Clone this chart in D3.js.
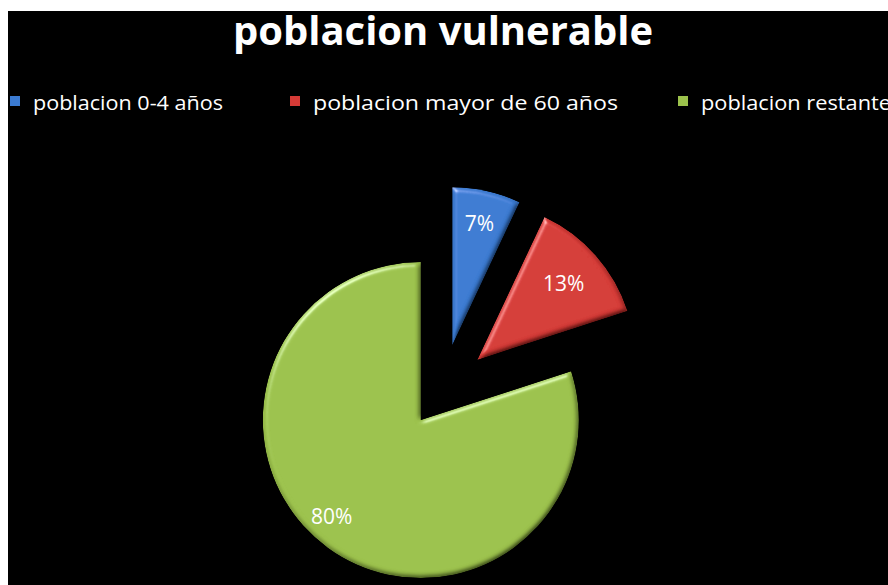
<!DOCTYPE html>
<html>
<head>
<meta charset="utf-8">
<script src="https://cdn.jsdelivr.net/npm/d3@7"></script>
<style>
  html, body { margin: 0; padding: 0; background: #fff; }
  svg { display: block; }
</style>
</head>
<body>
<div id="chart"></div>
<script>
// datos del grafico
const categories = ['poblacion 0-4 años', 'poblacion mayor de 60 años', 'poblacion restante'];
const values = [7, 13, 80];
const labels = ['7%', '13%', '80%'];
const titleText = 'poblacion vulnerable';

const W = 888, H = 585;
const colors = ['#3b7bd2', '#d53a36', '#9cc24c'];
const explode = [47, 47, 36];   // separacion de cada porcion
const cx = 442, cy = 391, radius = 158;

const svg = d3.select('#chart').append('svg')
    .attr('width', W)
    .attr('height', H);

// fondo negro con borde blanco arriba/izquierda
svg.append('rect')
    .attr('x', 8).attr('y', 11)
    .attr('width', W - 8).attr('height', H - 11)
    .attr('fill', '#000');

const defs = svg.append('defs');
const bevel = defs.append('filter')
    .attr('id', 'bevel')
    .attr('x', '-10%').attr('y', '-10%')
    .attr('width', '120%').attr('height', '120%');
bevel.append('feGaussianBlur')
    .attr('in', 'SourceAlpha').attr('stdDeviation', 2.5).attr('result', 'blur');
const spec = bevel.append('feSpecularLighting')
    .attr('in', 'blur').attr('surfaceScale', 4)
    .attr('specularConstant', 0.7).attr('specularExponent', 25)
    .attr('lighting-color', '#ffffff').attr('result', 'spec');
spec.append('feDistantLight').attr('azimuth', 235).attr('elevation', 25);
bevel.append('feComposite')
    .attr('in', 'spec').attr('in2', 'SourceAlpha')
    .attr('operator', 'in').attr('result', 'specOut');
const diff = bevel.append('feDiffuseLighting')
    .attr('in', 'blur').attr('surfaceScale', 4)
    .attr('diffuseConstant', 1).attr('lighting-color', '#ffffff').attr('result', 'diff');
diff.append('feDistantLight').attr('azimuth', 235).attr('elevation', 60);
bevel.append('feComposite')
    .attr('in', 'SourceGraphic').attr('in2', 'diff')
    .attr('operator', 'arithmetic')
    .attr('k1', 1.15).attr('k2', 0).attr('k3', 0).attr('k4', 0).attr('result', 'shaded');
bevel.append('feComposite')
    .attr('in', 'shaded').attr('in2', 'specOut')
    .attr('operator', 'arithmetic')
    .attr('k1', 0).attr('k2', 1).attr('k3', 0.6).attr('k4', 0).attr('result', 'lit');
bevel.append('feComposite')
    .attr('in', 'lit').attr('in2', 'SourceAlpha')
    .attr('operator', 'in');

// titulo
svg.append('text')
    .attr('x', 443).attr('y', 45)
    .attr('text-anchor', 'middle')
    .attr('font-family', 'Open Sans, sans-serif')
    .attr('font-weight', 'bold')
    .attr('font-size', 39)
    .attr('textLength', 420)
    .attr('lengthAdjust', 'spacingAndGlyphs')
    .attr('fill', '#fff')
    .text(titleText);

// leyenda
const legendX = [10, 290, 678];
const legendW = [190, 305, 190];
const legend = svg.append('g');
const items = legend.selectAll('g')
    .data(categories)
    .join('g')
    .attr('transform', (d, i) => `translate(${legendX[i]}, 96)`);
items.append('rect')
    .attr('width', 10).attr('height', 10)
    .attr('fill', (d, i) => colors[i]);
items.append('text')
    .attr('x', 23).attr('y', 14)
    .attr('font-family', 'Open Sans, sans-serif')
    .attr('font-size', 20)
    .attr('textLength', (d, i) => legendW[i])
    .attr('lengthAdjust', 'spacingAndGlyphs')
    .attr('fill', '#fff')
    .text(d => d);

// pastel
const pie = d3.pie().sort(null).value(d => d);
const arcs = pie(values);
const arc = d3.arc().innerRadius(0).outerRadius(radius);

const g = svg.append('g').attr('transform', `translate(${cx},${cy})`);

const slices = g.selectAll('g.slice')
    .data(arcs)
    .join('g')
    .attr('class', 'slice')
    .attr('transform', (d, i) => {
        const a = (d.startAngle + d.endAngle) / 2;
        return `translate(${Math.sin(a) * explode[i]},${-Math.cos(a) * explode[i]})`;
    });

slices.append('path')
    .attr('d', arc)
    .attr('fill', (d, i) => colors[i])
    .attr('filter', 'url(#bevel)');

const labelPos = [0.79, 0.73, 0.83];
const labelAng = [0, 0, 0.12];
slices.append('text')
    .attr('transform', (d, i) => {
        const a = (d.startAngle + d.endAngle) / 2 + labelAng[i];
        const r = radius * labelPos[i];
        return `translate(${Math.sin(a) * r},${-Math.cos(a) * r})`;
    })
    .attr('text-anchor', 'middle')
    .attr('dy', '0.35em')
    .attr('font-family', 'Open Sans, sans-serif')
    .attr('font-size', 21)
    .attr('fill', '#fff')
    .text((d, i) => labels[i]);
</script>
</body>
</html>
